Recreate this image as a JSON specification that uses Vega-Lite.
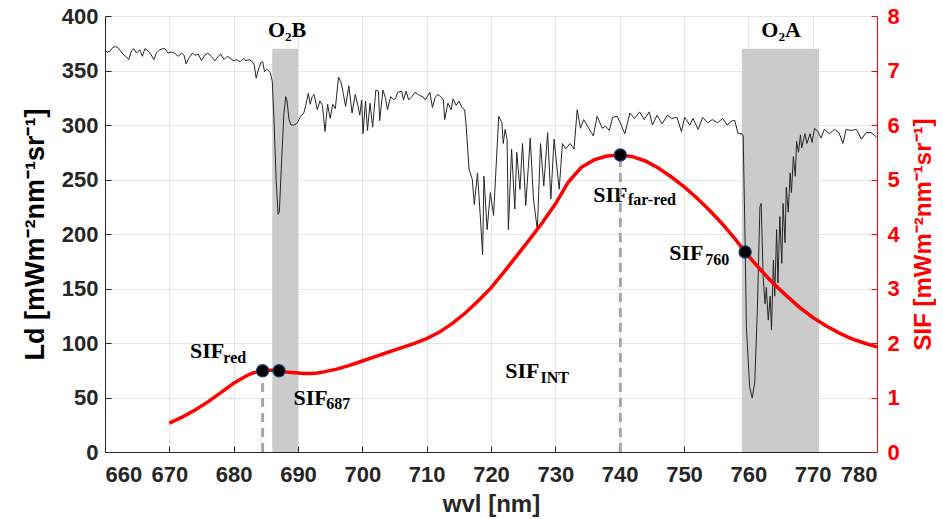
{
  "$schema": "https://vega.github.io/schema/vega-lite/v6.json",
  "width": 772,
  "height": 436,
  "autosize": "none",
  "padding": {"left": 105, "top": 16, "right": 66, "bottom": 67},
  "background": "white",
  "config": {"view": {"stroke": null}},
  "datasets": {
    "bands": [{"w": 686, "w2": 690, "v": 0, "v2": 370}, {"w": 759, "w2": 771, "v": 0, "v2": 370}],
    "rad": [
      {"w":660,"v":368},{"w":660.4,"v":367},{"w":660.8,"v":368},{"w":661.2,"v":371},{"w":661.6,"v":372},{"w":662.0,"v":371},{"w":662.4,"v":368},{"w":662.8,"v":365},{"w":663.2,"v":363},{"w":663.7,"v":360},{"w":664.1,"v":368},{"w":664.5,"v":370},{"w":664.9,"v":366},{"w":665.4,"v":369},{"w":665.8,"v":363},{"w":666.2,"v":370},{"w":666.7,"v":368},{"w":667.1,"v":365},{"w":667.6,"v":360},{"w":668.0,"v":366},{"w":668.5,"v":369},{"w":669.0,"v":370},{"w":669.3,"v":370},{"w":669.8,"v":366},{"w":670.3,"v":367},{"w":670.8,"v":366},{"w":671.4,"v":363},{"w":671.9,"v":366},{"w":672.3,"v":364},{"w":672.6,"v":356},{"w":673.1,"v":362},{"w":673.6,"v":366},{"w":674.0,"v":364},{"w":674.5,"v":365},{"w":675.0,"v":359},{"w":675.5,"v":364},{"w":676.0,"v":366},{"w":676.5,"v":363},{"w":677.1,"v":359},{"w":677.6,"v":363},{"w":678.0,"v":365},{"w":678.5,"v":360},{"w":679.0,"v":363},{"w":679.5,"v":361},{"w":680.0,"v":359},{"w":680.5,"v":360},{"w":681.0,"v":358},{"w":681.5,"v":361},{"w":681.9,"v":359},{"w":682.4,"v":360},{"w":682.9,"v":358},{"w":683.2,"v":355},{"w":683.5,"v":343},{"w":683.9,"v":352},{"w":684.2,"v":357},{"w":684.5,"v":358},{"w":684.8,"v":349},{"w":685.1,"v":351},{"w":685.4,"v":350},{"w":685.7,"v":348},{"w":686.0,"v":340},{"w":686.3,"v":300},{"w":686.6,"v":250},{"w":686.9,"v":218},{"w":687.1,"v":220},{"w":687.4,"v":260},{"w":687.8,"v":310},{"w":688.1,"v":326},{"w":688.3,"v":322},{"w":688.6,"v":305},{"w":688.9,"v":300},{"w":689.3,"v":300},{"w":689.7,"v":301},{"w":690.0,"v":303},{"w":690.4,"v":308},{"w":690.9,"v":311},{"w":691.2,"v":318},{"w":691.6,"v":329},{"w":691.9,"v":319},{"w":692.2,"v":326},{"w":692.5,"v":328},{"w":693.0,"v":314},{"w":693.4,"v":322},{"w":693.8,"v":318},{"w":694.2,"v":294},{"w":694.6,"v":319},{"w":695.0,"v":306},{"w":695.4,"v":319},{"w":695.8,"v":315},{"w":696.3,"v":344},{"w":696.7,"v":339},{"w":697.0,"v":330},{"w":697.4,"v":317},{"w":697.9,"v":336},{"w":698.4,"v":311},{"w":698.9,"v":328},{"w":699.3,"v":318},{"w":699.6,"v":309},{"w":699.9,"v":323},{"w":700.1,"v":292},{"w":700.5,"v":322},{"w":700.8,"v":295},{"w":701.2,"v":320},{"w":701.6,"v":298},{"w":702.1,"v":332},{"w":702.5,"v":331},{"w":702.7,"v":304},{"w":703.2,"v":332},{"w":703.6,"v":325},{"w":703.9,"v":314},{"w":704.4,"v":326},{"w":704.9,"v":323},{"w":705.2,"v":325},{"w":705.5,"v":330},{"w":706.1,"v":331},{"w":706.4,"v":323},{"w":706.8,"v":331},{"w":707.2,"v":323},{"w":707.7,"v":326},{"w":708.2,"v":330},{"w":708.9,"v":327},{"w":709.4,"v":326},{"w":709.8,"v":323},{"w":710.5,"v":330},{"w":710.9,"v":316},{"w":711.3,"v":325},{"w":711.7,"v":328},{"w":712.2,"v":326},{"w":712.6,"v":323},{"w":712.8,"v":305},{"w":713.3,"v":320},{"w":713.8,"v":314},{"w":714.1,"v":324},{"w":714.6,"v":318},{"w":715.0,"v":322},{"w":715.5,"v":316},{"w":715.9,"v":314},{"w":716.1,"v":302},{"w":716.6,"v":259},{"w":717.1,"v":250},{"w":717.4,"v":227},{"w":717.9,"v":256},{"w":718.4,"v":210},{"w":718.7,"v":181},{"w":718.9,"v":253},{"w":719.4,"v":204},{"w":719.9,"v":238},{"w":720.4,"v":217},{"w":721.2,"v":308},{"w":721.7,"v":302},{"w":721.9,"v":283},{"w":722.2,"v":296},{"w":722.5,"v":287},{"w":722.7,"v":204},{"w":723.2,"v":278},{"w":723.7,"v":223},{"w":724.0,"v":275},{"w":724.5,"v":241},{"w":724.9,"v":283},{"w":725.4,"v":226},{"w":726.1,"v":288},{"w":726.6,"v":232},{"w":727.2,"v":204},{"w":727.7,"v":283},{"w":728.2,"v":244},{"w":728.8,"v":293},{"w":729.3,"v":232},{"w":729.8,"v":287},{"w":730.6,"v":241},{"w":731.1,"v":283},{"w":731.6,"v":278},{"w":732.3,"v":283},{"w":732.9,"v":278},{"w":733.4,"v":314},{"w":733.9,"v":297},{"w":734.4,"v":305},{"w":735.2,"v":297},{"w":735.9,"v":290},{"w":736.5,"v":308},{"w":737.3,"v":297},{"w":737.8,"v":299},{"w":738.4,"v":295},{"w":738.9,"v":307},{"w":739.6,"v":308},{"w":740.1,"v":302},{"w":740.8,"v":292},{"w":741.6,"v":311},{"w":742.3,"v":306},{"w":743.1,"v":312},{"w":743.8,"v":305},{"w":744.6,"v":312},{"w":745.1,"v":300},{"w":745.8,"v":309},{"w":746.6,"v":301},{"w":747.4,"v":309},{"w":748.1,"v":306},{"w":748.9,"v":307},{"w":749.6,"v":294},{"w":750.1,"v":307},{"w":750.9,"v":300},{"w":751.4,"v":306},{"w":752.2,"v":296},{"w":752.9,"v":307},{"w":753.7,"v":302},{"w":754.4,"v":305},{"w":755.2,"v":302},{"w":756.0,"v":306},{"w":756.7,"v":300},{"w":757.5,"v":304},{"w":757.9,"v":304},{"w":758.4,"v":292},{"w":759.0,"v":292},{"w":759.2,"v":290},{"w":759.5,"v":192},{"w":759.7,"v":115},{"w":760.2,"v":60},{"w":760.6,"v":49.5},{"w":761.0,"v":64},{"w":761.4,"v":130},{"w":761.8,"v":225},{"w":762.0,"v":228},{"w":762.3,"v":161},{"w":762.6,"v":136},{"w":762.8,"v":151},{"w":763.1,"v":121},{"w":763.4,"v":143},{"w":763.6,"v":112},{"w":763.9,"v":176},{"w":764.1,"v":143},{"w":764.4,"v":204},{"w":764.6,"v":155},{"w":764.9,"v":216},{"w":765.2,"v":173},{"w":765.4,"v":228},{"w":765.7,"v":192},{"w":765.9,"v":243},{"w":766.2,"v":220},{"w":766.5,"v":256},{"w":766.7,"v":238},{"w":767.0,"v":271},{"w":767.3,"v":253},{"w":767.5,"v":285},{"w":767.8,"v":275},{"w":768.1,"v":291},{"w":768.3,"v":279},{"w":768.8,"v":292},{"w":769.1,"v":283},{"w":769.6,"v":292},{"w":769.9,"v":284},{"w":770.3,"v":297},{"w":770.8,"v":294},{"w":771.3,"v":288},{"w":771.8,"v":296},{"w":772.6,"v":292},{"w":773.4,"v":296},{"w":774.1,"v":293},{"w":774.7,"v":283},{"w":775.2,"v":296},{"w":776.0,"v":295},{"w":776.8,"v":296},{"w":777.6,"v":287},{"w":778.3,"v":293},{"w":779.1,"v":293},{"w":779.9,"v":289}
    ],
    "sif": [
      {"w":670,"s":0.53},{"w":672,"s":0.64},{"w":674,"s":0.77},{"w":676,"s":0.92},{"w":678,"s":1.09},{"w":680,"s":1.26},{"w":682,"s":1.4},{"w":683,"s":1.45},{"w":684,"s":1.48},{"w":684.5,"s":1.49},{"w":685,"s":1.5},{"w":686,"s":1.5},{"w":687,"s":1.49},{"w":688,"s":1.47},{"w":689,"s":1.46},{"w":690,"s":1.45},{"w":691,"s":1.44},{"w":692,"s":1.44},{"w":693,"s":1.45},{"w":694,"s":1.47},{"w":696,"s":1.52},{"w":698,"s":1.59},{"w":700,"s":1.67},{"w":702,"s":1.75},{"w":704,"s":1.83},{"w":706,"s":1.91},{"w":708,"s":1.99},{"w":710,"s":2.08},{"w":712,"s":2.2},{"w":714,"s":2.36},{"w":716,"s":2.55},{"w":718,"s":2.77},{"w":720,"s":3.01},{"w":722,"s":3.3},{"w":724,"s":3.6},{"w":726,"s":3.9},{"w":728,"s":4.21},{"w":730,"s":4.55},{"w":732,"s":4.95},{"w":734,"s":5.22},{"w":736,"s":5.36},{"w":738,"s":5.43},{"w":740,"s":5.45},{"w":742,"s":5.42},{"w":744,"s":5.34},{"w":746,"s":5.21},{"w":748,"s":5.05},{"w":750,"s":4.87},{"w":752,"s":4.66},{"w":754,"s":4.43},{"w":756,"s":4.18},{"w":758,"s":3.9},{"w":759.5,"s":3.67},{"w":760,"s":3.6},{"w":762,"s":3.33},{"w":764,"s":3.08},{"w":766,"s":2.86},{"w":768,"s":2.65},{"w":770,"s":2.47},{"w":772,"s":2.32},{"w":774,"s":2.19},{"w":776,"s":2.08},{"w":778,"s":2.0},{"w":780,"s":1.93}
    ],
    "pts": [{"w":684.5,"s":1.49},{"w":687.05,"s":1.49},{"w":740.1,"s":5.45},{"w":759.5,"s":3.67}],
    "drops": [{"w":684.5,"s":0,"s2":1.49},{"w":740.1,"s":0,"s2":5.45}],
    "o2": [{"t":"O₂B","w":688.3,"v":380.7},{"t":"O₂A","w":765.1,"v":380.7}],
    "main": [{"t":"SIF","w":673.2,"v":86},{"t":"SIF","w":689.3,"v":43.1},{"t":"SIF","w":722.2,"v":67.6},{"t":"SIF","w":735.9,"v":229.6},{"t":"SIF","w":747.7,"v":176.1}],
    "subs": [{"t":"red","w":678.4,"v":81.4},{"t":"687","w":694.4,"v":39.2},{"t":"INT","w":727.7,"v":63.6},{"t":"far-red","w":741.3,"v":226.6},{"t":"760","w":753.3,"v":171.6}]
  },
  "encoding": {
    "x": {"field": "w", "type": "quantitative", "scale": {"domain": [660, 780], "nice": false},
      "axis": {"title": "wvl [nm]", "values": [660,670,680,690,700,710,720,730,740,750,760,770,780],
        "grid": true, "gridColor": "#e6e6e6", "domainColor": "#262626", "tickColor": "#262626", "tickSize": -6,
        "labelFont": "Liberation Sans", "labelFontWeight": "bold", "labelFontSize": 22, "labelColor": "#262626", "labelPadding": 18,
        "titleFont": "Liberation Sans", "titleFontWeight": "bold", "titleFontSize": 24, "titleColor": "#262626", "titlePadding": 7}}
  },
  "layer": [
    {
      "encoding": {
        "y": {"field": "v", "type": "quantitative", "scale": {"domain": [0, 400], "nice": false},
          "axis": {"title": "Ld [mWm⁻²nm⁻¹sr⁻¹]", "values": [0,50,100,150,200,250,300,350,400],
            "grid": true, "gridColor": "#e6e6e6", "domainColor": "#262626", "tickColor": "#262626", "tickSize": -6,
            "labelFont": "Liberation Sans", "labelFontWeight": "bold", "labelFontSize": 22, "labelColor": "#262626", "labelPadding": 13,
            "titleFont": "Liberation Sans", "titleFontWeight": "bold", "titleFontSize": 27, "titleColor": "#000000", "titlePadding": 12}}
      },
      "layer": [
        {
          "data": {"name": "bands"},
          "mark": {"type": "rect", "color": "#cbcbcb"},
          "encoding": {"x2": {"field": "w2"}, "y2": {"field": "v2"}}
        },
        {
          "data": {"name": "rad"},
          "mark": {"type": "line", "color": "#262626", "strokeWidth": 1},
          "encoding": {}
        },
        {
          "data": {"name": "o2"},
          "mark": {"type": "text", "font": "Liberation Serif", "fontWeight": "bold", "fontSize": 22, "align": "center", "baseline": "alphabetic", "color": "#000000"},
          "encoding": {"text": {"field": "t"}}
        },
        {
          "data": {"name": "main"},
          "mark": {"type": "text", "font": "Liberation Serif", "fontWeight": "bold", "fontSize": 22, "align": "left", "baseline": "alphabetic", "color": "#000000"},
          "encoding": {"text": {"field": "t"}}
        },
        {
          "data": {"name": "subs"},
          "mark": {"type": "text", "font": "Liberation Serif", "fontWeight": "bold", "fontSize": 16, "align": "left", "baseline": "alphabetic", "color": "#000000"},
          "encoding": {"text": {"field": "t"}}
        }
      ]
    },
    {
      "encoding": {
        "y": {"field": "s", "type": "quantitative", "scale": {"domain": [0, 8], "nice": false},
          "axis": {"orient": "right", "title": "SIF [mWm⁻²nm⁻¹sr⁻¹]", "values": [0,1,2,3,4,5,6,7,8],
            "grid": false, "domainColor": "#ff0000", "tickColor": "#ff0000", "tickSize": -6,
            "labelFont": "Liberation Sans", "labelFontWeight": "bold", "labelFontSize": 22, "labelColor": "#ff0000", "labelPadding": 16,
            "titleFont": "Liberation Sans", "titleFontWeight": "bold", "titleFontSize": 24, "titleColor": "#ff0000", "titlePadding": 12, "titleAngle": 270, "titleBaseline": "top"}}
      },
      "layer": [
        {
          "data": {"name": "drops"},
          "mark": {"type": "rule", "color": "#a6a6a6", "strokeWidth": 3, "strokeDash": [9, 6]},
          "encoding": {"y2": {"field": "s2"}}
        },
        {
          "data": {"name": "sif"},
          "mark": {"type": "line", "color": "#ff0000", "strokeWidth": 3.5},
          "encoding": {}
        },
        {
          "data": {"name": "pts"},
          "mark": {"type": "point", "filled": true, "shape": "circle", "size": 150, "color": "#000000", "stroke": "#1c3f7a", "strokeWidth": 1.2, "opacity": 1},
          "encoding": {}
        }
      ]
    }
  ],
  "resolve": {"scale": {"y": "independent"}}
}
